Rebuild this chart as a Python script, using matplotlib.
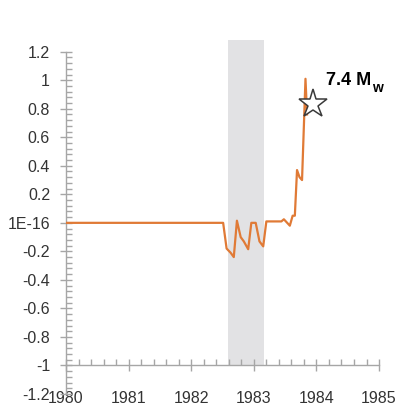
import numpy as np
import matplotlib
matplotlib.use("Agg")
from matplotlib import pyplot as plt

# time series (decimal year) and normalised signal
years = [1980.0, 1982.51, 1982.565, 1982.63, 1982.68, 1982.73, 1982.79, 1982.84,
         1982.91, 1982.96, 1983.03, 1983.09, 1983.15, 1983.20, 1983.44, 1983.48,
         1983.575, 1983.62, 1983.655, 1983.69, 1983.73, 1983.77, 1983.825, 1983.85]
signal = [0.0, 0.0, -0.18, -0.21, -0.24, 0.015, -0.10, -0.13,
          -0.185, 0.0, 0.0, -0.13, -0.165, 0.01, 0.01, 0.025,
          -0.02, 0.05, 0.05, 0.37, 0.32, 0.30, 1.01, 0.76]

# shaded period
band_start, band_end = 1982.58, 1983.16
band_top = 1.28

# earthquake marker
quake_year, quake_val = 1983.94, 0.83
quake_label = "7.4 M"
quake_sub = "w"

x_ticks = [1980, 1981, 1982, 1983, 1984, 1985]
y_ticks = [1.2, 1, 0.8, 0.6, 0.4, 0.2, 0, -0.2, -0.4, -0.6, -0.8, -1, -1.2]
y_labels = ["1.2", "1", "0.8", "0.6", "0.4", "0.2", "1E-16",
            "-0.2", "-0.4", "-0.6", "-0.8", "-1", "-1.2"]

plt.rcParams['font.family'] = ['Liberation Sans', 'DejaVu Sans']

fig = plt.figure(figsize=(3.99, 4.09), dpi=100)
ax = fig.add_axes([0.1654, 0.0367, 0.7846, 0.8648])

ax.fill_between([band_start, band_end], -1, band_top, color='#e2e2e4', lw=0, zorder=1)
ax.plot(years, signal, color='#e07a36', lw=1.6, zorder=3)
ax.plot(quake_year, quake_val, marker='*', ms=21, mfc='white', mec='#3a3a3a',
        mew=1.1, zorder=4)

t = ax.text(1984.16, 1.0, quake_label, fontsize=13, fontweight='bold',
            ha='left', va='center', color='black')
ax.annotate(quake_sub, xy=(1, 0.02), xycoords=t, fontsize=10, fontweight='bold',
            ha='left', va='center', color='black')

ax.set_xlim(1980, 1985)
ax.set_ylim(-1.2, band_top)

axis_col = '#a6a6a6'
for side in ['top', 'right']:
    ax.spines[side].set_visible(False)
ax.spines['bottom'].set_position(('data', -1))
ax.spines['bottom'].set_bounds(1980, 1985)
ax.spines['left'].set_bounds(-1.2, 1.2)
for side in ['bottom', 'left']:
    ax.spines[side].set_color(axis_col)
    ax.spines[side].set_linewidth(1.0)

ax.set_xticks(x_ticks)
ax.set_xticklabels([str(x) for x in x_ticks])
ax.set_xticks(np.arange(1980, 1985.01, 0.2), minor=True)
ax.set_yticks(y_ticks)
ax.set_yticklabels(y_labels)
ax.set_yticks(np.arange(-1.2, 1.201, 0.04), minor=True)

ax.tick_params(axis='both', which='major', direction='inout', length=9,
               width=1.0, color=axis_col, labelsize=11.5, labelcolor='#333333')
ax.tick_params(axis='both', which='minor', direction='in', length=4,
               width=1.0, color=axis_col)
ax.tick_params(axis='x', which='major', pad=14)
ax.tick_params(axis='y', which='major', pad=7)

fig.savefig('out.png', dpi=100)
